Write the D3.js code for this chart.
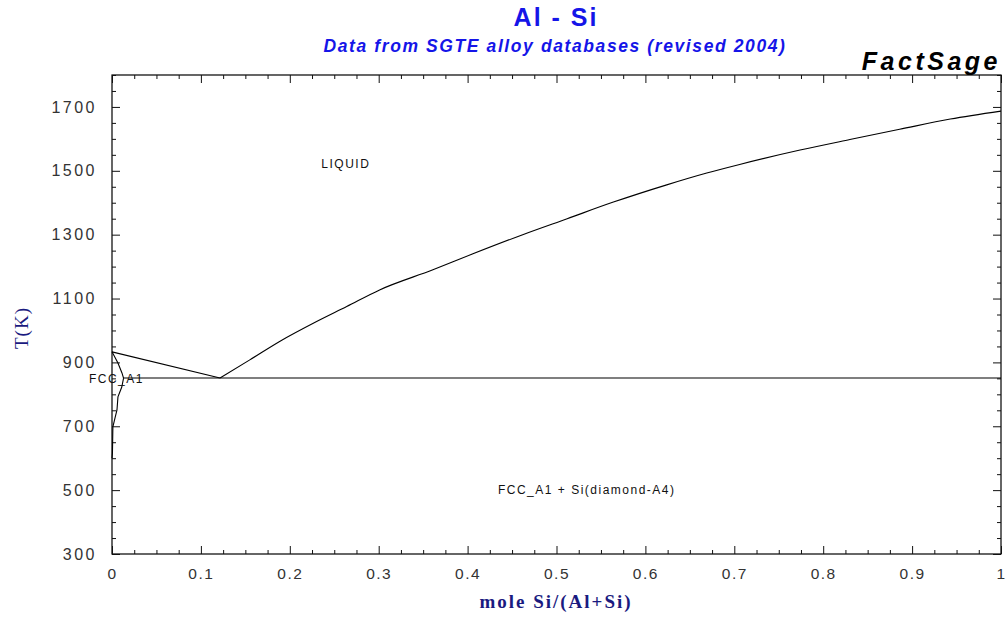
<!DOCTYPE html>
<html>
<head>
<meta charset="utf-8">
<script src="https://cdn.jsdelivr.net/npm/d3@7"></script>
<style>
  html, body { margin: 0; padding: 0; background: #fff; }
  svg { display: block; }
</style>
</head>
<body>
<svg id="chart" width="1006" height="617"></svg>
<script>
// Al-Si phase boundaries: [mole fraction Si, temperature in K]
const liquidusAlSide = [[0, 933], [0.1215, 851]];
const liquidusSiSide = [
  [0.1215, 851], [0.155, 908], [0.19, 968], [0.228, 1025], [0.264, 1075],
  [0.301, 1127], [0.361, 1190], [0.406, 1240], [0.462, 1300], [0.512, 1350],
  [0.564, 1402], [0.624, 1456], [0.669, 1493], [0.706, 1520], [0.774, 1565],
  [0.830, 1598], [0.886, 1630], [0.943, 1662], [1, 1687]
];
const solidusFcc = [[0, 933], [0.0067, 898], [0.0112, 867], [0.013, 851]];
const solvusFcc = [
  [0.013, 851], [0.011, 823], [0.0067, 792], [0.0056, 751], [0.0034, 726],
  [0.001, 698], [0.0005, 616], [0, 600]
];
const eutecticLine = [[0.013, 851], [1, 851]];

const xTicks = [0, 0.1, 0.2, 0.3, 0.4, 0.5, 0.6, 0.7, 0.8, 0.9, 1];
const xTickLabels = ["0", "0.1", "0.2", "0.3", "0.4", "0.5", "0.6", "0.7", "0.8", "0.9", "1"];
const yTicks = [300, 500, 700, 900, 1100, 1300, 1500, 1700];

const phaseLabels = [
  { text: "LIQUID", x: 0.263, t: 1518 },
  { text: "FCC_A1 + Si(diamond-A4)", x: 0.534, t: 497 },
  { text: "FCC_A1", x: 0.005, t: 846 }
];

const svg = d3.select("#chart");
const plotLeft = 112, plotRight = 1001, plotTop = 75, plotBottom = 554;

const x = d3.scaleLinear().domain([0, 1]).range([plotLeft, plotRight]);
const y = d3.scaleLinear().domain([300, 1800]).range([plotBottom, plotTop]);

// Minor tick positions
const xMinor = d3.range(0, 1.0001, 0.025).filter(v => Math.abs(v * 10 - Math.round(v * 10)) > 1e-6);
const yMinor = d3.range(300, 1801, 50).filter(v => v % 200 !== 100);

const tickColor = "#111";
const sans = "Liberation Sans, Arial, sans-serif";
const serif = "Liberation Serif, Times New Roman, serif";

// Frame
svg.append("rect")
  .attr("x", plotLeft).attr("y", plotTop)
  .attr("width", plotRight - plotLeft).attr("height", plotBottom - plotTop)
  .attr("fill", "none").attr("stroke", "#000").attr("stroke-width", 1.2);

// Bottom axis (inward ticks)
const xAxisB = d3.axisBottom(x).tickValues(xTicks)
  .tickFormat((d, i) => xTickLabels[i]).tickSize(-8).tickPadding(14);
const gxb = svg.append("g").attr("transform", `translate(0,${plotBottom})`).call(xAxisB);
gxb.select(".domain").remove();
gxb.selectAll(".tick line").attr("stroke", tickColor);
gxb.selectAll("text")
  .attr("font-family", sans)
  .attr("font-size", 15.5).attr("fill", "#333").attr("letter-spacing", 1.5);

svg.append("g").attr("transform", `translate(0,${plotBottom})`)
  .call(d3.axisBottom(x).tickValues(xMinor).tickSize(-4).tickFormat(""))
  .call(g => g.select(".domain").remove())
  .selectAll("line").attr("stroke", tickColor);

// Top ticks
svg.append("g").attr("transform", `translate(0,${plotTop})`)
  .call(d3.axisTop(x).tickValues(xTicks).tickSize(-8).tickFormat(""))
  .call(g => g.select(".domain").remove())
  .selectAll("line").attr("stroke", tickColor);
svg.append("g").attr("transform", `translate(0,${plotTop})`)
  .call(d3.axisTop(x).tickValues(xMinor).tickSize(-4).tickFormat(""))
  .call(g => g.select(".domain").remove())
  .selectAll("line").attr("stroke", tickColor);

// Left axis
const gyl = svg.append("g").attr("transform", `translate(${plotLeft},0)`)
  .call(d3.axisLeft(y).tickValues(yTicks).tickSize(-8).tickPadding(15).tickFormat(d3.format("d")));
gyl.select(".domain").remove();
gyl.selectAll(".tick line").attr("stroke", tickColor);
gyl.selectAll("text")
  .attr("font-family", sans)
  .attr("font-size", 16).attr("fill", "#333").attr("letter-spacing", 2.5);

svg.append("g").attr("transform", `translate(${plotLeft},0)`)
  .call(d3.axisLeft(y).tickValues(yMinor).tickSize(-4).tickFormat(""))
  .call(g => g.select(".domain").remove())
  .selectAll("line").attr("stroke", tickColor);

// Right ticks
svg.append("g").attr("transform", `translate(${plotRight},0)`)
  .call(d3.axisRight(y).tickValues(yTicks).tickSize(-8).tickFormat(""))
  .call(g => g.select(".domain").remove())
  .selectAll("line").attr("stroke", tickColor);
svg.append("g").attr("transform", `translate(${plotRight},0)`)
  .call(d3.axisRight(y).tickValues(yMinor).tickSize(-4).tickFormat(""))
  .call(g => g.select(".domain").remove())
  .selectAll("line").attr("stroke", tickColor);

// Phase boundaries
const line = d3.line().x(d => x(d[0])).y(d => y(d[1]));
const smoothLine = d3.line().x(d => x(d[0])).y(d => y(d[1])).curve(d3.curveMonotoneX);
[liquidusAlSide, solidusFcc, solvusFcc, eutecticLine].forEach(data => {
  svg.append("path").datum(data)
    .attr("d", line)
    .attr("fill", "none").attr("stroke", "#000").attr("stroke-width", 1.1);
});
svg.append("path").datum(liquidusSiSide)
  .attr("d", smoothLine)
  .attr("fill", "none").attr("stroke", "#000").attr("stroke-width", 1.1);

// Phase field labels
svg.selectAll(".phase").data(phaseLabels).enter().append("text")
  .attr("class", "phase")
  .attr("x", d => x(d.x)).attr("y", d => y(d.t))
  .attr("text-anchor", "middle").attr("dominant-baseline", "middle")
  .attr("font-family", sans)
  .attr("font-size", 12).attr("letter-spacing", 1.5).attr("fill", "#111")
  .text(d => d.text);

// Titles
svg.append("text").attr("x", 556).attr("y", 26).attr("text-anchor", "middle")
  .attr("font-family", sans).attr("font-weight", "bold")
  .attr("font-size", 25).attr("letter-spacing", 2).attr("fill", "#1515e8").text("Al - Si");
svg.append("text").attr("x", 555).attr("y", 52).attr("text-anchor", "middle")
  .attr("font-family", sans).attr("font-weight", "bold")
  .attr("font-style", "italic").attr("font-size", 17.5).attr("letter-spacing", 1.6)
  .attr("fill", "#1515e8")
  .text("Data from SGTE alloy databases (revised 2004)");
svg.append("text").attr("x", 1001).attr("y", 70).attr("text-anchor", "end")
  .attr("font-family", sans).attr("font-weight", "bold")
  .attr("font-style", "italic").attr("font-size", 25).attr("letter-spacing", 3.5)
  .attr("fill", "#000").text("FactSage");

// Axis titles
svg.append("text").attr("x", 556).attr("y", 608).attr("text-anchor", "middle")
  .attr("font-family", serif).attr("font-weight", "bold")
  .attr("font-size", 19).attr("letter-spacing", 2).attr("fill", "#1a1a80").text("mole Si/(Al+Si)");
svg.append("text")
  .attr("transform", "translate(28,328) rotate(-90)")
  .attr("text-anchor", "middle")
  .attr("font-family", serif)
  .attr("font-size", 19).attr("letter-spacing", 1).attr("fill", "#1a1a80").text("T(K)");
</script>
</body>
</html>
